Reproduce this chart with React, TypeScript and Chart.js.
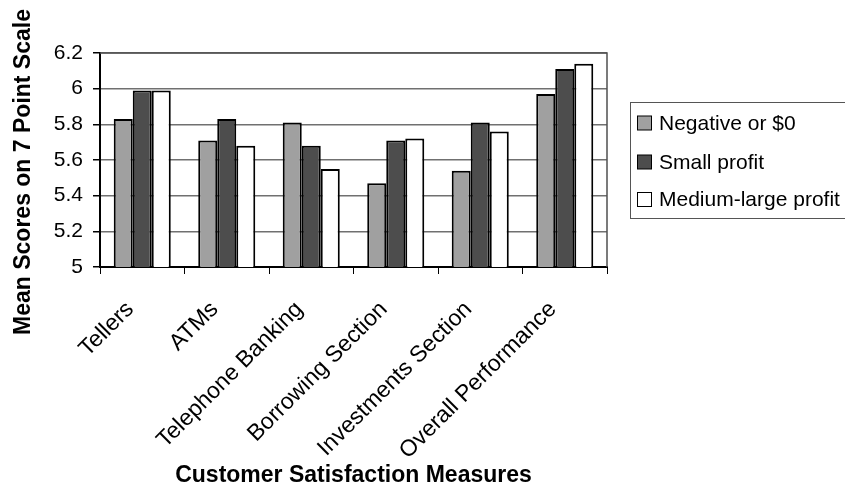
import React, { useEffect, useRef } from "react";
import { Chart, registerables } from "chart.js";

Chart.register(...registerables);

const categories = [
  "Tellers",
  "ATMs",
  "Telephone Banking",
  "Borrowing Section",
  "Investments Section",
  "Overall Performance",
];
const seriesNames = ["Negative or $0", "Small profit", "Medium-large profit"];
const negativeOrZero = [5.83, 5.71, 5.81, 5.47, 5.54, 5.97];
const smallProfit = [5.99, 5.83, 5.68, 5.71, 5.81, 6.11];
const mediumLargeProfit = [5.99, 5.68, 5.55, 5.72, 5.76, 6.14];
const seriesColors = ["#a0a0a0", "#4d4d4d", "#ffffff"];
const yMin = 5;
const yMax = 6.2;
const yStep = 0.2;
const yTitle = "Mean Scores on 7 Point Scale";
const xTitle = "Customer Satisfaction Measures";

const FONT = "'Liberation Sans', Arial, Helvetica, sans-serif";

const framePlugin = {
  id: "frame",
  beforeDatasetsDraw(chart: any) {
    const { ctx, chartArea } = chart;
    ctx.save();
    ctx.strokeStyle = "#505050";
    ctx.lineWidth = 1.5;
    ctx.beginPath();
    ctx.moveTo(chartArea.left, chartArea.top);
    ctx.lineTo(chartArea.right, chartArea.top);
    ctx.lineTo(chartArea.right, chartArea.bottom);
    ctx.stroke();
    ctx.restore();
  },
};

const extrasPlugin = {
  id: "extras",
  afterDraw(chart: any) {
    const { ctx } = chart;
    ctx.save();
    ctx.translate(24, 172);
    ctx.rotate(-Math.PI / 2);
    ctx.font = `bold 23px ${FONT}`;
    ctx.fillStyle = "#000";
    ctx.textAlign = "center";
    ctx.textBaseline = "middle";
    ctx.fillText(yTitle, 0, 0);
    ctx.restore();

    ctx.save();
    ctx.strokeStyle = "#555";
    ctx.lineWidth = 1;
    ctx.strokeRect(630.5, 102.5, 230, 116);
    const ys = [123, 162, 199.5];
    ctx.font = `21px ${FONT}`;
    ctx.textBaseline = "middle";
    ctx.textAlign = "left";
    chart.data.datasets.forEach((ds: any, i: number) => {
      const y = ys[i];
      ctx.fillStyle = ds.backgroundColor;
      ctx.fillRect(637.5, y - 7, 14, 14);
      ctx.strokeStyle = "#000";
      ctx.lineWidth = 1;
      ctx.strokeRect(637.5, y - 7, 14, 14);
      ctx.fillStyle = "#000";
      ctx.fillText(ds.label, 659, y + 1);
    });
    ctx.restore();
  },
};

export default function App() {
  const ref = useRef<HTMLCanvasElement | null>(null);

  useEffect(() => {
    if (!ref.current) return;
    const seriesData = [negativeOrZero, smallProfit, mediumLargeProfit];
    const chart = new Chart(ref.current, {
      type: "bar",
      data: {
        labels: categories,
        datasets: seriesNames.map((name, i) => ({
          label: name,
          data: seriesData[i],
          backgroundColor: seriesColors[i],
          borderColor: "#000",
          borderWidth: 2,
          categoryPercentage: 0.675,
          barPercentage: 1,
        })),
      },
      options: {
        responsive: false,
        animation: false,
        layout: { padding: { top: 53, right: 238, left: 0, bottom: 0 } },
        plugins: {
          legend: { display: false },
          tooltip: { enabled: false },
        },
        scales: {
          x: {
            afterFit(scale: any) {
              scale.height = 222;
            },
            grid: {
              offset: true,
              drawOnChartArea: false,
              drawTicks: true,
              tickLength: 7,
              tickColor: "#000",
              color: "#000",
            },
            border: { color: "#000", width: 2 },
            ticks: {
              autoSkip: false,
              minRotation: 45,
              maxRotation: 45,
              color: "#000",
              font: { family: FONT, size: 23 },
              padding: 22,
              labelOffset: -12,
            },
            title: {
              display: true,
              text: xTitle,
              color: "#000",
              font: { family: FONT, size: 23, weight: "bold" },
              padding: { top: 0, bottom: 0 },
            },
          },
          y: {
            min: yMin,
            max: yMax,
            afterFit(scale: any) {
              scale.width = 100;
            },
            grid: {
              color: "#707070",
              lineWidth: 1.5,
              tickLength: 7,
              tickColor: "#000",
            },
            border: { color: "#000", width: 2 },
            ticks: {
              stepSize: yStep,
              color: "#000",
              padding: 10,
              font: { family: FONT, size: 21 },
              callback: (v: any) => String(+Number(v).toFixed(1)),
            },
          },
        },
      },
      plugins: [framePlugin, extrasPlugin],
    });
    return () => chart.destroy();
  }, []);

  return (
    <div style={{ position: "fixed", left: 0, top: 0, width: 845, height: 489, background: "#fff" }}>
      <canvas ref={ref} width={845} height={489} style={{ display: "block" }} />
    </div>
  );
}
